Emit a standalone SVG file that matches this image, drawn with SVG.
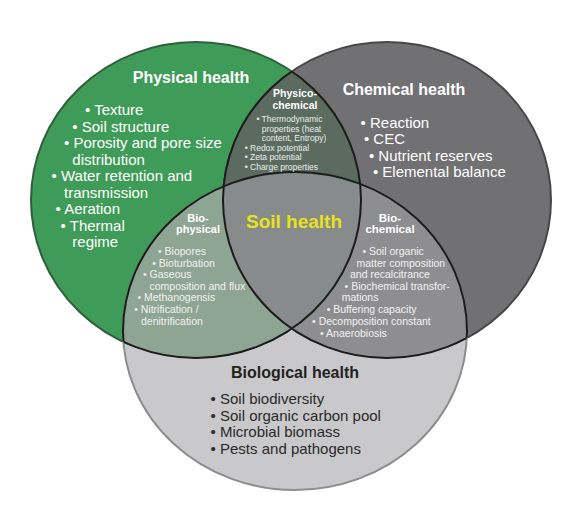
<svg xmlns="http://www.w3.org/2000/svg" width="574" height="516" viewBox="0 0 574 516">
<style>
text{font-family:"Liberation Sans",Arial,Helvetica,sans-serif}
.h{font-weight:bold;font-size:16px;fill:#ffffff;text-anchor:middle}
.hb{font-weight:bold;font-size:16px;fill:#222222;text-anchor:middle}
.l{font-size:15px;fill:#ffffff}
.lb{font-size:15px;fill:#2a2a2a}
.ih{font-weight:bold;font-size:11px;fill:#ffffff;text-anchor:middle}
.s{font-size:8.5px;fill:#ececec}
.m{font-size:10.5px;fill:#f2f2f2}
.soil{font-weight:bold;font-size:19px;fill:#e8e21c;text-anchor:middle}
.ol{fill:none;stroke:#1c1c1c;stroke-width:2}
</style>
<defs>
<ellipse id="eG" cx="196" cy="200" rx="165" ry="158"/>
<ellipse id="eD" cx="387" cy="200" rx="164" ry="158"/>
<ellipse id="eB" cx="295" cy="331" rx="172" ry="159"/>
<clipPath id="cG"><use href="#eG"/></clipPath>
<clipPath id="cD"><use href="#eD"/></clipPath>
<clipPath id="cDB"><use href="#eD"/><use href="#eB"/></clipPath>
<clipPath id="cGB"><use href="#eG"/><use href="#eB"/></clipPath>
<clipPath id="cGD"><use href="#eG"/><use href="#eD"/></clipPath>
</defs>
<rect width="574" height="516" fill="#ffffff"/>
<g id="regions">
<use href="#eG" fill="#3f9b58" stroke="#2f5f3c" stroke-width="2"/>
<use href="#eD" fill="#717173" stroke="#474749" stroke-width="2"/>
<use href="#eB" fill="#c9c9cb" stroke="#8d8d8f" stroke-width="2"/>
<g clip-path="url(#cG)">
<use href="#eD" fill="#5b6b60"/>
<use href="#eB" fill="#8da592"/>
</g>
<g clip-path="url(#cD)">
<use href="#eB" fill="#8e8e91"/>
<g clip-path="url(#cG)"><use href="#eB" fill="#888b8c"/></g>
</g>
</g>
<g id="outlines">
<use href="#eG" class="ol" clip-path="url(#cDB)"/>
<use href="#eD" class="ol" clip-path="url(#cGB)"/>
<use href="#eB" class="ol" clip-path="url(#cGD)"/>
</g>
<g id="physical">
<text class="h" x="191" y="83">Physical health</text>
<text class="l" x="85" y="115">• Texture</text>
<text class="l" x="72.3" y="131.5">• Soil structure</text>
<text class="l" x="64" y="148">• Porosity and pore size</text>
<text class="l" x="72.3" y="164.5">distribution</text>
<text class="l" x="51.6" y="181">• Water retention and</text>
<text class="l" x="64" y="197.5">transmission</text>
<text class="l" x="55.6" y="214">• Aeration</text>
<text class="l" x="60.6" y="230.5">• Thermal</text>
<text class="l" x="72.3" y="247">regime</text>
</g>
<g id="chemical">
<text class="h" x="404" y="95">Chemical health</text>
<text class="l" x="360.6" y="127.5">• Reaction</text>
<text class="l" x="363.9" y="144">• CEC</text>
<text class="l" x="368.9" y="160.5">• Nutrient reserves</text>
<text class="l" x="372.9" y="177">• Elemental balance</text>
</g>
<g id="physico-chemical">
<text class="ih" x="295" y="97" style="font-size:10.5px">Physico-</text>
<text class="ih" x="295" y="109" style="font-size:10.5px">chemical</text>
<text class="s" x="256.4" y="122">• Thermodynamic</text>
<text class="s" x="261.7" y="131.5">properties (heat</text>
<text class="s" x="261.7" y="141">content, Entropy)</text>
<text class="s" x="244.7" y="150.5">• Redox potential</text>
<text class="s" x="244.7" y="160">• Zeta potential</text>
<text class="s" x="244.7" y="169.5">• Charge properties</text>
</g>
<g id="bio-physical">
<text class="ih" x="198" y="221.7">Bio-</text>
<text class="ih" x="198" y="233.3">physical</text>
<text class="m" x="158" y="255">• Biopores</text>
<text class="m" x="152.2" y="266.5">• Bioturbation</text>
<text class="m" x="143" y="278">• Gaseous</text>
<text class="m" x="149.5" y="289.8">composition and flux</text>
<text class="m" x="137.4" y="301.4">• Methanogensis</text>
<text class="m" x="134.2" y="313">• Nitrification /</text>
<text class="m" x="141" y="324.8">denitrification</text>
</g>
<g id="bio-chemical">
<text class="ih" x="390" y="221.7" style="font-size:11.5px">Bio-</text>
<text class="ih" x="390" y="233.3" style="font-size:11.5px">chemical</text>
<text class="m" x="362.4" y="255">• Soil organic</text>
<text class="m" x="356.5" y="266.5">matter composition</text>
<text class="m" x="350" y="278">and recalcitrance</text>
<text class="m" x="344.6" y="289.8">• Biochemical transfor-</text>
<text class="m" x="341.7" y="301.4">mations</text>
<text class="m" x="326.7" y="313">• Buffering capacity</text>
<text class="m" x="312.1" y="324.8">• Decomposition constant</text>
<text class="m" x="320.1" y="336.6">• Anaerobiosis</text>
</g>
<g id="soil-health">
<text class="soil" x="294" y="228">Soil health</text>
</g>
<g id="biological">
<text class="hb" x="295" y="378.3">Biological health</text>
<text class="lb" x="210.6" y="404">• Soil biodiversity</text>
<text class="lb" x="210.6" y="420.5">• Soil organic carbon pool</text>
<text class="lb" x="210.6" y="437">• Microbial biomass</text>
<text class="lb" x="210.6" y="453.5">• Pests and pathogens</text>
</g>
</svg>
